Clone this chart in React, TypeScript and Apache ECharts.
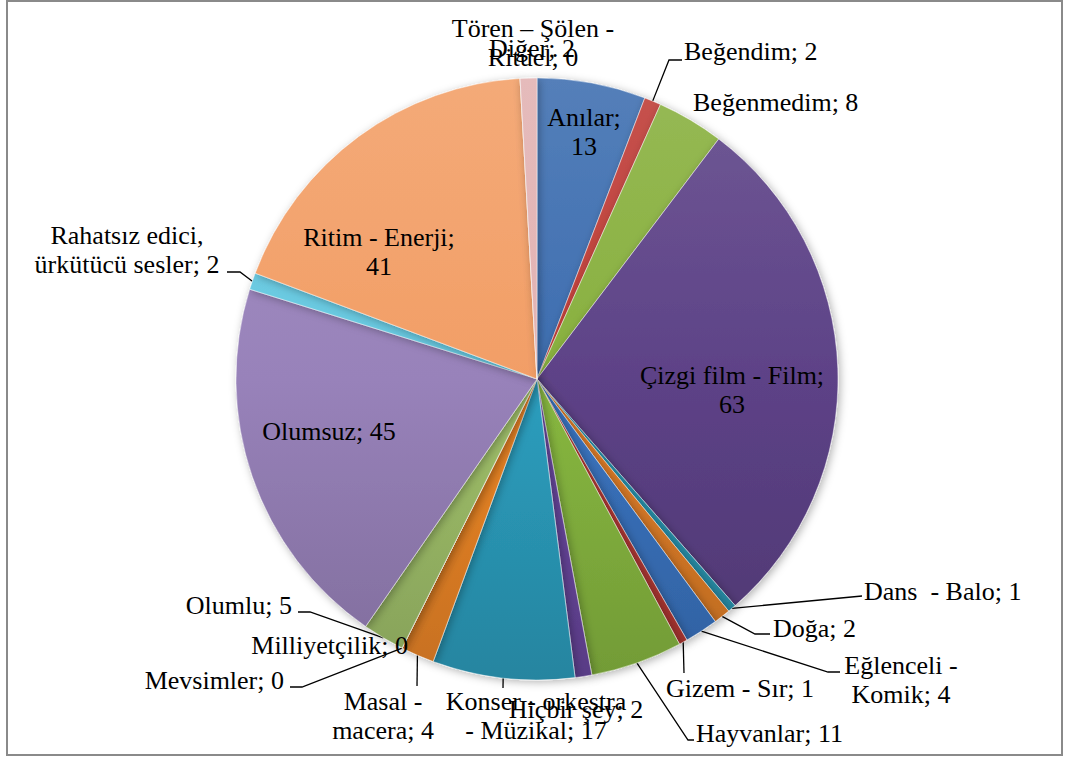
import React, { useEffect, useRef } from "react";
import * as echarts from "echarts";

const categories = [
  "Anılar",
  "Beğendim",
  "Beğenmedim",
  "Çizgi film - Film",
  "Dans  - Balo",
  "Doğa",
  "Eğlenceli - Komik",
  "Gizem - Sır",
  "Hayvanlar",
  "Hiçbir şey",
  "Konser - orkestra - Müzikal",
  "Masal - macera",
  "Mevsimler",
  "Milliyetçilik",
  "Olumlu",
  "Olumsuz",
  "Rahatsız edici, ürkütücü sesler",
  "Ritim - Enerji",
  "Tören – Şölen - Ritüel",
  "Diğer",
];
const values = [13, 2, 8, 63, 1, 2, 4, 1, 11, 2, 17, 4, 0, 0, 5, 45, 2, 41, 0, 2];

const colors = [
  "#3D6DB0", "#BE3C36", "#88B03E", "#5D4287", "#2A97B2", "#E07E28",
  "#3A74C0", "#B83A35", "#88B840", "#6A48A0", "#2C9EBE", "#EC8526",
  "#7FA0D0", "#D08080", "#A0C06A", "#9882BA", "#66C8E0", "#F29E66",
  "#5080C0", "#E2B2B2",
];

// where each label wraps: "value" = break before the value, a string = break after that prefix
const wraps: (string | null)[] = [
  "value", null, null, "value", null, null, "Eğlenceli -", null, null, null,
  "Konser - orkestra", "Masal -", null, null, null, null, "Rahatsız edici,", "value",
  "Tören – Şölen -", null,
];

type Lay = { inside?: boolean; x: number; y: number; align: string; line?: number[][] };
const layouts: Lay[] = [
  { inside: true, x: 584, y: 132, align: "center" },
  { x: 684, y: 51, align: "left", line: [[669, 60], [682, 60]] },
  { x: 693, y: 102, align: "left" },
  { inside: true, x: 732, y: 390, align: "center" },
  { x: 864, y: 591, align: "left", line: [[862, 596], [862, 596]] },
  { x: 773, y: 628, align: "left", line: [[755, 634], [770, 634]] },
  { x: 901, y: 680, align: "center", line: [[828, 672], [840, 672]] },
  { x: 740, y: 688, align: "center", line: [[684, 673], [684, 673]] },
  { x: 696, y: 733, align: "left", line: [[688, 740], [694, 740]] },
  { x: 576, y: 709, align: "center" },
  { x: 536, y: 716, align: "center", line: [[503, 688], [503, 688]] },
  { x: 383, y: 716, align: "center", line: [[417, 686], [417, 686]] },
  { x: 284, y: 680, align: "right", line: [[302, 687], [290, 687]] },
  { x: 408, y: 645, align: "right" },
  { x: 292, y: 605, align: "right", line: [[310, 612], [298, 612]] },
  { inside: true, x: 329, y: 431, align: "center" },
  { x: 127, y: 250, align: "center", line: [[240, 272], [227, 272]] },
  { inside: true, x: 379, y: 252, align: "center" },
  { x: 533, y: 43, align: "center" },
  { x: 532, y: 48, align: "center" },
];

const FONT = "Liberation Serif";

function shade(hex: string, f: number): string {
  const n = parseInt(hex.slice(1), 16);
  const ch = [(n >> 16) & 255, (n >> 8) & 255, n & 255].map((c) => {
    const v = f >= 1 ? c + (255 - c) * (f - 1) : c * f;
    return Math.max(0, Math.min(255, Math.round(v)));
  });
  return "#" + ch.map((c) => c.toString(16).padStart(2, "0")).join("");
}

function labelText(name: string, value: number, wrap: string | null): string {
  if (wrap === "value") return `${name};\n${value}`;
  if (wrap) return `${wrap}\n${name.slice(wrap.length).trim()}; ${value}`;
  return `${name}; ${value}`;
}

const CX = 537;
const CY = 379;
const R = 301;

export default function App() {
  const ref = useRef<HTMLDivElement>(null);
  useEffect(() => {
    if (!ref.current) return;
    const chart = echarts.init(ref.current, null, { renderer: "svg" });
    const data = categories.map((name, i) => {
      const L = layouts[i];
      return {
        name,
        value: values[i],
        itemStyle: {
          color: new echarts.graphic.LinearGradient(
            0, CY - R, 0, CY + R,
            [
              { offset: 0, color: shade(colors[i], 1.12) },
              { offset: 0.5, color: colors[i] },
              { offset: 1, color: shade(colors[i], 0.84) },
            ],
            true
          ),
        },
        label: {
          position: L.inside ? "inside" : "outside",
          formatter: labelText(name, values[i], wraps[i]),
          fontFamily: FONT,
          fontSize: 26,
          lineHeight: 29,
          color: "#000",
        },
        labelLine: { show: !!L.line },
      };
    });
    chart.setOption({
      animation: false,
      backgroundColor: "#ffffff",
      textStyle: { fontFamily: FONT },
      graphic: [
        {
          type: "rect",
          shape: { x: 7, y: 1, width: 1055, height: 754 },
          style: { fill: "none", stroke: "#8a8a8a", lineWidth: 2 },
          silent: true,
        },
      ],
      series: [
        {
          type: "pie",
          center: [CX, CY],
          radius: R,
          startAngle: 90,
          clockwise: true,
          avoidLabelOverlap: false,
          silent: true,
          itemStyle: {
            borderColor: "rgba(255,255,255,0.45)",
            borderWidth: 1,
            shadowBlur: 8,
            shadowColor: "rgba(0,0,0,0.3)",
            shadowOffsetX: 2,
            shadowOffsetY: 2,
          },
          label: {
            show: true,
            color: "#000",
            fontFamily: FONT,
            fontSize: 26,
            lineHeight: 29,
          },
          labelLine: {
            show: true,
            lineStyle: { color: "#000", width: 1.3 },
            length: 10,
            length2: 10,
          },
          labelLayout: (params: any) => {
            const L = layouts[params.dataIndex];
            const res: any = { x: L.x, y: L.y, align: L.align, verticalAlign: "middle" };
            if (L.line && params.labelLinePoints) {
              res.labelLinePoints = [params.labelLinePoints[0], ...L.line];
            }
            return res;
          },
          data,
        },
      ],
    });
    return () => chart.dispose();
  }, []);
  return (
    <div
      ref={ref}
      style={{ position: "absolute", left: 0, top: 0, width: 1065, height: 760 }}
    />
  );
}
